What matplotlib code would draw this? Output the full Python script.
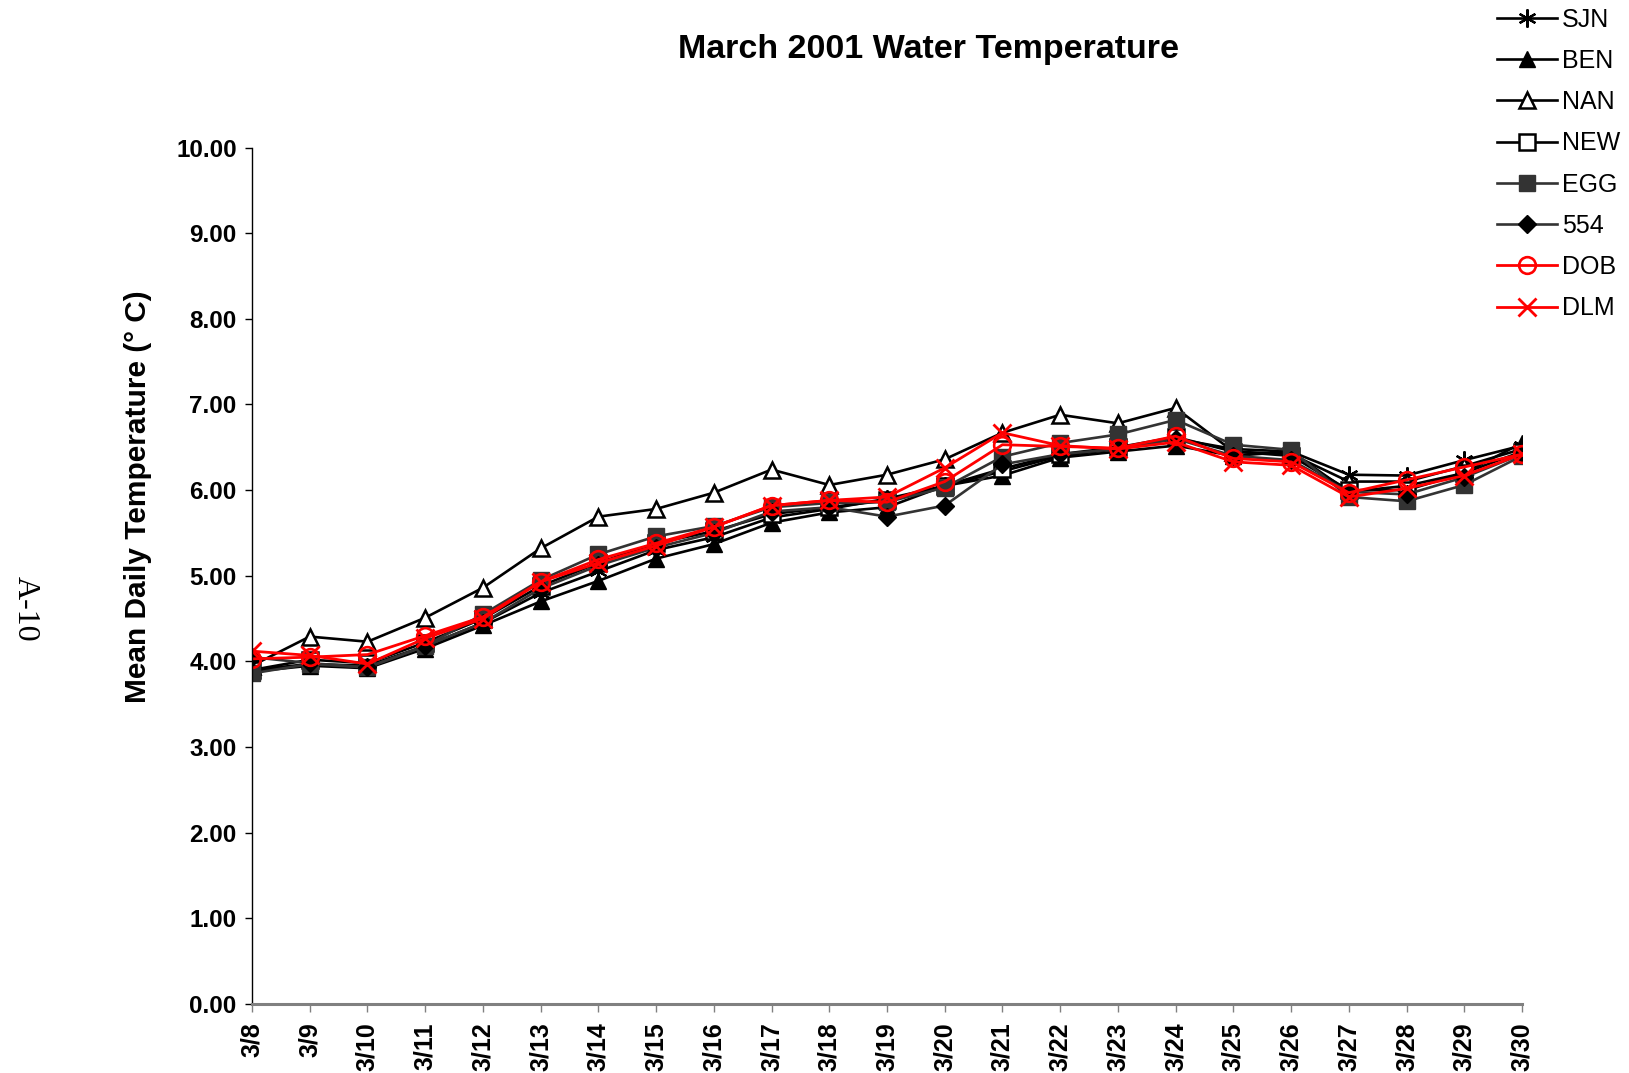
import numpy as np
import matplotlib
matplotlib.use("Agg")
import matplotlib.pyplot as plt

plt.rcParams['font.family'] = ['Liberation Sans', 'DejaVu Sans']

dates = ["3/8", "3/9", "3/10", "3/11", "3/12", "3/13", "3/14", "3/15", "3/16",
         "3/17", "3/18", "3/19", "3/20", "3/21", "3/22", "3/23", "3/24", "3/25",
         "3/26", "3/27", "3/28", "3/29", "3/30"]

sjn = [3.90, 3.97, 3.95, 4.18, 4.45, 4.80, 5.05, 5.30, 5.45, 5.68, 5.78, 5.90,
       6.05, 6.22, 6.40, 6.48, 6.60, 6.48, 6.45, 6.18, 6.17, 6.35, 6.52]
ben = [3.88, 3.95, 3.92, 4.15, 4.42, 4.70, 4.94, 5.20, 5.37, 5.62, 5.74, 5.80,
       6.05, 6.17, 6.38, 6.45, 6.52, 6.40, 6.45, 5.98, 6.05, 6.20, 6.55]
nan_ = [3.95, 4.29, 4.23, 4.51, 4.86, 5.32, 5.69, 5.78, 5.97, 6.24, 6.06, 6.18,
        6.36, 6.67, 6.88, 6.78, 6.96, 6.45, 6.42, 6.10, 6.10, 6.28, 6.48]
new = [3.90, 4.02, 3.98, 4.22, 4.50, 4.88, 5.15, 5.38, 5.52, 5.72, 5.80, 5.88,
       6.05, 6.25, 6.42, 6.50, 6.62, 6.45, 6.40, 6.00, 6.00, 6.20, 6.45]
egg = [3.86, 3.97, 3.93, 4.18, 4.55, 4.95, 5.25, 5.46, 5.58, 5.80, 5.85, 5.86,
       6.03, 6.39, 6.55, 6.65, 6.82, 6.53, 6.47, 5.92, 5.87, 6.06, 6.40]
d554 = [4.05, 3.98, 3.93, 4.18, 4.45, 4.85, 5.12, 5.33, 5.50, 5.75, 5.80, 5.69,
        5.82, 6.30, 6.42, 6.48, 6.60, 6.40, 6.35, 5.98, 5.95, 6.15, 6.42]
dob = [4.03, 4.05, 4.08, 4.30, 4.52, 4.93, 5.19, 5.38, 5.57, 5.82, 5.88, 5.86,
       6.10, 6.53, 6.51, 6.49, 6.63, 6.37, 6.33, 5.97, 6.12, 6.27, 6.42]
dlm = [4.12, 4.07, 3.97, 4.27, 4.50, 4.93, 5.15, 5.35, 5.57, 5.82, 5.88, 5.92,
       6.26, 6.67, 6.52, 6.48, 6.56, 6.33, 6.29, 5.92, 6.02, 6.17, 6.42]

x = np.arange(len(dates))

fig = plt.figure(figsize=(16.29, 10.73), dpi=100)
ax = fig.add_axes([0.1547, 0.0643, 0.7796, 0.7982])

dgray = "#333333"
lw = 1.9
ax.plot(x, sjn, color="black", lw=lw, marker=(6, 2, 0), ms=13, mew=1.6, label="SJN")
ax.plot(x, ben, color="black", lw=lw, marker="^", ms=12, label="BEN")
ax.plot(x, nan_, color="black", lw=lw, marker="^", ms=12, mfc="white", mew=1.8, label="NAN")
ax.plot(x, new, color="black", lw=lw, marker="s", ms=11, mfc="white", mew=1.8, label="NEW")
ax.plot(x, egg, color=dgray, lw=lw, marker="s", ms=11, mfc=dgray, mec=dgray, label="EGG")
ax.plot(x, d554, color=dgray, lw=lw, marker="D", ms=9, mfc="black", mec="black", label="554")
ax.plot(x, dob, color="red", lw=2.0, marker="o", ms=12, mfc="none", mew=1.9, label="DOB")
ax.plot(x, dlm, color="red", lw=2.0, marker="x", ms=13, mew=2.0, label="DLM")

ax.set_xlim(0, len(dates) - 1)
ax.set_ylim(0, 10)
ax.set_yticks(np.arange(0, 11, 1))
ax.set_yticklabels([f"{v:.2f}" for v in range(11)], fontsize=17.5, fontweight="bold")
ax.set_xticks(x)
ax.set_xticklabels(dates, rotation=90, fontsize=18, fontweight="bold")

ax.spines["top"].set_visible(False)
ax.spines["right"].set_visible(False)
ax.spines["left"].set_linewidth(1.0)
ax.spines["bottom"].set_color("#808080")
ax.spines["bottom"].set_linewidth(2.2)
ax.tick_params(axis="y", length=5, width=1.0, pad=6)
ax.tick_params(axis="x", length=6, width=1.0, color="#808080", pad=7)

fig.text(0.570, 0.954, "March 2001 Water Temperature", fontsize=24.5,
         fontweight="bold", ha="center", va="center")
fig.text(0.085, 0.537, "Mean Daily Temperature (\u00b0 C)", fontsize=21.5,
         fontweight="bold", rotation=90, ha="center", va="center")
fig.text(0.0155, 0.433, "A-10", family=["Liberation Serif", "DejaVu Serif"],
         fontsize=23, rotation=-90, ha="center", va="center")

fig.legend(loc="upper left", bbox_to_anchor=(0.919, 0.993), frameon=False,
           fontsize=18, handlelength=2.4, handletextpad=0.2, labelspacing=0.69,
           borderpad=0, borderaxespad=0)

fig.savefig("out.png", dpi=100)
